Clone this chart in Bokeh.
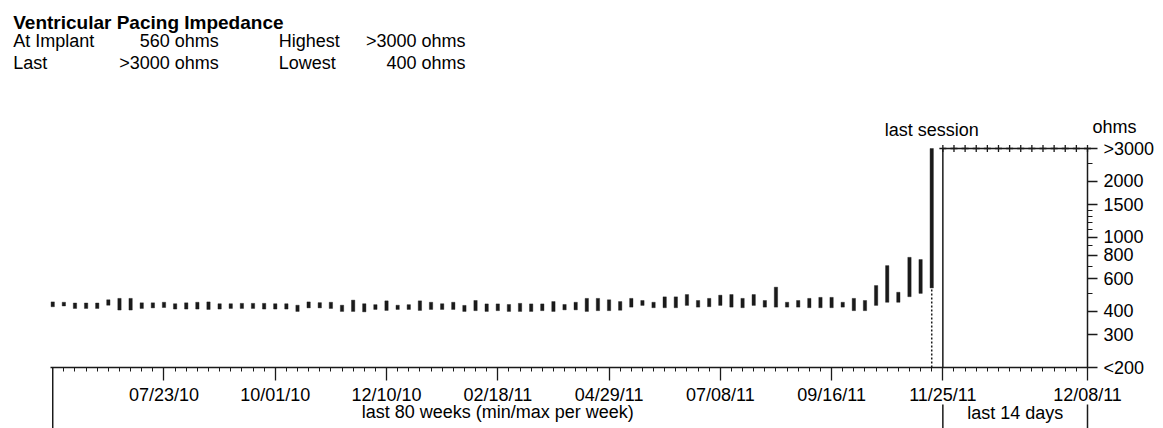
import math
from bokeh.plotting import figure
from bokeh.models import Range1d, FixedTicker
from bokeh.embed import file_html
from bokeh.resources import INLINE
from bokeh.core.properties import value

# ---------------- data ----------------
week_index = list(range(80))
week_min = [424, 428, 415, 415, 415, 432, 407, 407, 415, 418,
            420, 412, 412, 412, 410, 412, 415, 415, 415, 412,
            412, 412, 400, 418, 418, 415, 400, 400, 398, 410,
            405, 410, 410, 405, 410, 410, 410, 400, 404, 400,
            404, 400, 400, 400, 404, 400, 408, 408, 400, 404,
            404, 406, 422, 431, 419, 419, 419, 431, 422, 424,
            431, 422, 419, 431, 422, 422, 422, 422, 419, 419,
            419, 422, 404, 404, 431, 448, 448, 480, 500, 535]
week_max = [450, 448, 444, 444, 444, 462, 470, 470, 445, 445,
            448, 440, 445, 448, 450, 440, 440, 442, 442, 442,
            440, 440, 432, 450, 446, 448, 432, 460, 440, 435,
            456, 432, 435, 456, 448, 440, 448, 431, 458, 439,
            439, 436, 442, 439, 439, 452, 436, 448, 470, 470,
            462, 452, 470, 458, 448, 479, 479, 493, 458, 470,
            489, 493, 470, 493, 458, 540, 448, 458, 470, 476,
            476, 448, 470, 458, 551, 705, 507, 781, 760, 3000]
last_session_week = 79

session_day = list(range(14))          # last 14 days
session_value = [3000] * 14            # all >3000 ohms
days_start = 80                        # position of 11/25/11
days_end = 93                          # position of 12/08/11

x_tick_pos = [10, 20, 30, 40, 50, 60, 70, 80, 93]
x_tick_labels = ["07/23/10", "10/01/10", "12/10/10", "02/18/11", "04/29/11",
                 "07/08/11", "09/16/11", "11/25/11", "12/08/11"]
y_tick_values = [200, 300, 400, 600, 800, 1000, 1500, 2000, 3000]
y_tick_labels = ["<200", "300", "400", "600", "800", "1000", "1500", "2000", ">3000"]
y_minor_values = [500, 700, 900, 1100, 1200, 1300, 1400, 2500]

title_text = "Ventricular Pacing Impedance"
stat_names_left = ["At Implant", "Last"]
stat_values_left = ["560 ohms", ">3000 ohms"]
stat_names_right = ["Highest", "Lowest"]
stat_values_right = [">3000 ohms", "400 ohms"]
section_labels = ["last 80 weeks (min/max per week)", "last 14 days"]
marker_label = "last session"
unit_label = "ohms"

# ---------------- figure ----------------
W, H = 1163, 428
FRAME_LEFT, FRAME_RIGHT, FRAME_TOP, FRAME_BOTTOM = 50, 1087, 148, 367
X0, X1 = -0.2, days_end
Y_MIN, Y_MAX = 200, 3000
FONT = "Liberation Sans"
INK = "#1a1a1a"

p = figure(width=W, height=H, x_range=Range1d(X0, X1), y_range=Range1d(Y_MIN, Y_MAX),
           y_axis_type="log", y_axis_location="right", output_backend="svg",
           toolbar_location=None, min_border_left=FRAME_LEFT,
           min_border_right=W - FRAME_RIGHT, min_border_top=FRAME_TOP,
           min_border_bottom=H - FRAME_BOTTOM)
p.outline_line_color = None
p.xgrid.visible = False
p.ygrid.visible = False
p.background_fill_color = "white"
p.border_fill_color = "white"

PPU = (FRAME_RIGHT - FRAME_LEFT) / (X1 - X0)
PX_PER_DECADE = (FRAME_BOTTOM - FRAME_TOP) / math.log10(Y_MAX / Y_MIN)
TEXT_SHIFT = 6.5   # glyph baseline correction


def tx(px):
    """page pixel -> x data"""
    return X0 + (px - FRAME_LEFT) / PPU


def ty(py):
    """page pixel -> y data (log scale)"""
    return Y_MIN * 10 ** ((FRAME_BOTTOM - py) / PX_PER_DECADE)


def tyt(py):
    """text baseline page pixel -> y data"""
    return ty(py - TEXT_SHIFT)


# weekly min/max bars
p.vbar(x=week_index, width=0.3, bottom=week_min, top=week_max,
       fill_color=INK, line_color=INK, line_width=0.4, level="overlay")

# last session dotted marker
p.segment(x0=[last_session_week], y0=[Y_MIN], x1=[last_session_week],
          y1=[week_min[last_session_week]], line_color=INK, line_width=1.5,
          line_dash="2 2", level="overlay")

# separator between weekly and daily sections
p.segment(x0=[days_start], y0=[Y_MIN], x1=[days_start], y1=[Y_MAX],
          line_color=INK, line_width=1.5, level="overlay")

# lines below the axis
p.segment(x0=[0, days_start, days_end], y0=[ty(FRAME_BOTTOM), ty(404), ty(404)],
          x1=[0, days_start, days_end], y1=[ty(H + 5)] * 3,
          line_color=INK, line_width=1.5, level="overlay")

# daily series
sx = [days_start + d for d in session_day]
p.line(sx, session_value, line_color=INK, line_width=1.5, level="overlay")
p.scatter(sx, session_value, marker="cross", size=7, line_color=INK, line_width=1.3,
          level="overlay")

# axes
xa = p.xaxis[0]
xa.ticker = FixedTicker(ticks=x_tick_pos, minor_ticks=list(range(0, days_end + 1)))
xa.major_label_overrides = dict(zip(x_tick_pos, x_tick_labels))
xa.major_tick_out = 13
xa.major_tick_in = 0
xa.minor_tick_out = 4
xa.minor_tick_in = 0
xa.axis_line_width = 1.5
xa.axis_line_color = INK
xa.major_tick_line_color = INK
xa.minor_tick_line_color = INK
xa.major_tick_line_width = 1.3
xa.major_label_text_font = FONT
xa.major_label_text_font_size = "18px"
xa.major_label_text_color = "black"
xa.major_label_standoff = 4

ya = p.yaxis[0]
ya.ticker = FixedTicker(ticks=y_tick_values, minor_ticks=y_minor_values)
ya.major_label_overrides = dict(zip(y_tick_values, y_tick_labels))
ya.major_tick_out = 10
ya.major_tick_in = 0
ya.minor_tick_out = 5
ya.minor_tick_in = 0
ya.axis_line_width = 1.5
ya.axis_line_color = INK
ya.major_tick_line_color = INK
ya.minor_tick_line_color = INK
ya.major_tick_line_width = 1.3
ya.major_label_text_font = FONT
ya.major_label_text_font_size = "18px"
ya.major_label_text_color = "black"
ya.major_label_standoff = 6

# ---------------- texts (drawn as overlay text glyphs) ----------------
row1, row2 = 46.5, 69.0
txt_common = dict(text_font=value(FONT), text_color="black",
                  text_baseline="alphabetic", level="overlay")

p.text(x=[tx(12.7)], y=[tyt(28.5)], text=[title_text], text_align="left",
       text_font_style="bold", text_font_size="19px", **txt_common)
p.text(x=[tx(12.7), tx(12.7), tx(278.3), tx(278.3), tx(1092)],
       y=[tyt(row1), tyt(row2), tyt(row1), tyt(row2), tyt(132.5)],
       text=stat_names_left + stat_names_right + [unit_label],
       text_align="left", text_font_size="18px", **txt_common)
p.text(x=[tx(218.3), tx(218.3), tx(465), tx(465)],
       y=[tyt(row1), tyt(row2), tyt(row1), tyt(row2)],
       text=stat_values_left + stat_values_right,
       text_align="right", text_font_size="18px", **txt_common)
p.text(x=[last_session_week, days_start / 2, (days_start + days_end) / 2],
       y=[tyt(136), tyt(418), tyt(419)],
       text=[marker_label] + section_labels,
       text_align="center", text_font_size="18px", **txt_common)

open("out.html", "w").write(file_html(p, INLINE))
